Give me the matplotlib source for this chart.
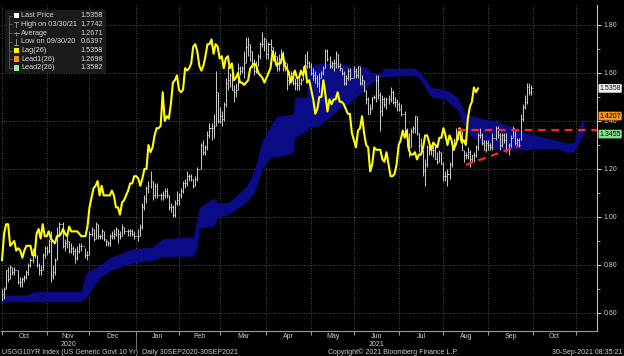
import numpy as np
import pandas as pd
import matplotlib
matplotlib.use("Agg")
import matplotlib.pyplot as plt
import matplotlib.transforms as mtransforms
from matplotlib.patches import Rectangle

plt.rcParams['font.family'] = ['Liberation Sans', 'DejaVu Sans']

# USGG10YR daily bars (every weekday)
close_oct20 = [0.68, 0.70, 0.78, 0.74, 0.79, 0.77, 0.78, 0.78, 0.73, 0.73, 0.74, 0.75, 0.77, 0.80, 0.82, 0.86, 0.84, 0.80, 0.78, 0.78, 0.84, 0.87]
high_oct20 = [0.70, 0.71, 0.78, 0.79, 0.80, 0.79, 0.79, 0.78, 0.78, 0.75, 0.75, 0.76, 0.78, 0.81, 0.83, 0.87, 0.86, 0.84, 0.81, 0.80, 0.85, 0.88]
low_oct20 = [0.65, 0.66, 0.70, 0.73, 0.74, 0.76, 0.76, 0.78, 0.72, 0.71, 0.71, 0.73, 0.74, 0.76, 0.79, 0.81, 0.83, 0.79, 0.76, 0.76, 0.78, 0.83]

close_nov20 = [0.86, 0.90, 0.76, 0.77, 0.82, 0.93, 0.97, 0.97, 0.88, 0.89, 0.90, 0.86, 0.87, 0.86, 0.83, 0.86, 0.88, 0.88, 0.88, 0.84, 0.84]
high_nov20 = [0.88, 0.91, 0.94, 0.80, 0.83, 0.96, 0.98, 0.97, 0.98, 0.91, 0.92, 0.90, 0.89, 0.88, 0.87, 0.88, 0.89, 0.89, 0.88, 0.87, 0.86]
low_nov20 = [0.84, 0.85, 0.73, 0.74, 0.76, 0.82, 0.93, 0.97, 0.87, 0.86, 0.87, 0.85, 0.85, 0.84, 0.81, 0.82, 0.85, 0.86, 0.88, 0.83, 0.82]

close_dec20 = [0.93, 0.95, 0.91, 0.97, 0.92, 0.92, 0.94, 0.91, 0.90, 0.89, 0.92, 0.92, 0.93, 0.95, 0.93, 0.92, 0.96, 0.94, 0.94, 0.94, 0.94, 0.93, 0.92]
high_dec20 = [0.94, 0.96, 0.95, 0.98, 0.97, 0.93, 0.95, 0.94, 0.91, 0.90, 0.93, 0.94, 0.95, 0.96, 0.95, 0.94, 0.97, 0.96, 0.94, 0.95, 0.95, 0.95, 0.94]
low_dec20 = [0.84, 0.92, 0.90, 0.91, 0.91, 0.91, 0.91, 0.90, 0.88, 0.88, 0.88, 0.91, 0.91, 0.92, 0.89, 0.91, 0.92, 0.93, 0.94, 0.92, 0.92, 0.92, 0.91]

close_jan21 = [0.92, 0.92, 0.96, 1.04, 1.08, 1.12, 1.13, 1.15, 1.09, 1.13, 1.09, 1.09, 1.09, 1.09, 1.11, 1.09, 1.04, 1.04, 1.01, 1.06, 1.07]
high_jan21 = [0.92, 0.95, 0.97, 1.06, 1.09, 1.13, 1.15, 1.19, 1.15, 1.14, 1.14, 1.09, 1.10, 1.11, 1.12, 1.12, 1.09, 1.06, 1.05, 1.07, 1.11]
low_jan21 = [0.92, 0.90, 0.92, 0.95, 1.03, 1.06, 1.10, 1.12, 1.07, 1.08, 1.08, 1.09, 1.07, 1.07, 1.08, 1.08, 1.03, 1.02, 1.00, 1.00, 1.05]

close_feb21 = [1.09, 1.11, 1.14, 1.14, 1.17, 1.17, 1.16, 1.13, 1.16, 1.20, 1.20, 1.30, 1.27, 1.29, 1.34, 1.37, 1.37, 1.38, 1.52, 1.40]
high_feb21 = [1.10, 1.12, 1.15, 1.16, 1.19, 1.18, 1.18, 1.16, 1.17, 1.21, 1.20, 1.31, 1.32, 1.30, 1.36, 1.39, 1.39, 1.43, 1.61, 1.52]
low_feb21 = [1.05, 1.08, 1.10, 1.12, 1.13, 1.15, 1.15, 1.12, 1.13, 1.15, 1.20, 1.20, 1.26, 1.26, 1.28, 1.33, 1.32, 1.33, 1.38, 1.39]

close_mar21 = [1.42, 1.41, 1.47, 1.56, 1.57, 1.59, 1.53, 1.52, 1.53, 1.62, 1.61, 1.62, 1.64, 1.71, 1.72, 1.69, 1.63, 1.61, 1.63, 1.67, 1.72, 1.72, 1.74]
high_mar21 = [1.46, 1.44, 1.48, 1.58, 1.63, 1.60, 1.60, 1.55, 1.56, 1.64, 1.63, 1.63, 1.69, 1.75, 1.75, 1.72, 1.69, 1.66, 1.65, 1.68, 1.73, 1.77, 1.75]
low_mar21 = [1.39, 1.38, 1.40, 1.46, 1.53, 1.54, 1.53, 1.48, 1.50, 1.53, 1.59, 1.60, 1.58, 1.64, 1.67, 1.65, 1.62, 1.59, 1.60, 1.63, 1.66, 1.71, 1.69]

close_apr21 = [1.68, 1.72, 1.71, 1.66, 1.67, 1.62, 1.66, 1.67, 1.62, 1.64, 1.57, 1.58, 1.60, 1.56, 1.56, 1.55, 1.56, 1.57, 1.62, 1.63, 1.64, 1.63]
high_apr21 = [1.74, 1.73, 1.74, 1.71, 1.69, 1.67, 1.68, 1.70, 1.69, 1.65, 1.64, 1.61, 1.61, 1.61, 1.58, 1.58, 1.58, 1.58, 1.63, 1.68, 1.69, 1.65]
low_apr21 = [1.66, 1.66, 1.69, 1.65, 1.64, 1.61, 1.61, 1.66, 1.61, 1.61, 1.53, 1.55, 1.57, 1.55, 1.53, 1.53, 1.53, 1.55, 1.57, 1.61, 1.62, 1.62]

close_may21 = [1.60, 1.59, 1.58, 1.56, 1.58, 1.60, 1.62, 1.69, 1.66, 1.63, 1.64, 1.64, 1.68, 1.63, 1.62, 1.60, 1.56, 1.58, 1.61, 1.58, 1.58]
high_may21 = [1.64, 1.62, 1.61, 1.59, 1.60, 1.61, 1.63, 1.70, 1.70, 1.67, 1.65, 1.66, 1.69, 1.68, 1.64, 1.62, 1.61, 1.59, 1.62, 1.62, 1.58]
low_may21 = [1.59, 1.57, 1.56, 1.54, 1.52, 1.58, 1.59, 1.62, 1.65, 1.62, 1.62, 1.61, 1.62, 1.62, 1.61, 1.59, 1.55, 1.55, 1.57, 1.57, 1.58]

close_jun21 = [1.61, 1.59, 1.63, 1.56, 1.57, 1.53, 1.49, 1.43, 1.45, 1.50, 1.50, 1.57, 1.51, 1.44, 1.49, 1.47, 1.49, 1.49, 1.52, 1.48, 1.48, 1.47]
high_jun21 = [1.63, 1.62, 1.63, 1.63, 1.59, 1.57, 1.53, 1.50, 1.47, 1.50, 1.51, 1.59, 1.59, 1.52, 1.51, 1.50, 1.50, 1.51, 1.54, 1.53, 1.50, 1.49]
low_jun21 = [1.58, 1.58, 1.58, 1.55, 1.55, 1.52, 1.47, 1.43, 1.43, 1.45, 1.49, 1.48, 1.49, 1.36, 1.42, 1.46, 1.45, 1.47, 1.48, 1.47, 1.46, 1.44]

close_jul21 = [1.45, 1.43, 1.43, 1.35, 1.32, 1.29, 1.36, 1.37, 1.42, 1.35, 1.30, 1.29, 1.19, 1.22, 1.29, 1.28, 1.28, 1.28, 1.24, 1.23, 1.27, 1.22]
high_jul21 = [1.48, 1.47, 1.43, 1.44, 1.37, 1.35, 1.37, 1.38, 1.42, 1.42, 1.35, 1.33, 1.28, 1.24, 1.30, 1.31, 1.30, 1.30, 1.30, 1.27, 1.28, 1.27]
low_jul21 = [1.44, 1.42, 1.43, 1.34, 1.29, 1.25, 1.29, 1.35, 1.35, 1.34, 1.27, 1.28, 1.17, 1.13, 1.21, 1.26, 1.26, 1.25, 1.24, 1.22, 1.23, 1.22]

close_aug21 = [1.17, 1.17, 1.18, 1.22, 1.30, 1.32, 1.36, 1.33, 1.36, 1.28, 1.26, 1.26, 1.27, 1.24, 1.26, 1.26, 1.29, 1.34, 1.34, 1.31, 1.28, 1.31]
high_aug21 = [1.23, 1.19, 1.20, 1.23, 1.31, 1.33, 1.37, 1.37, 1.37, 1.36, 1.28, 1.27, 1.29, 1.28, 1.26, 1.27, 1.30, 1.35, 1.37, 1.35, 1.32, 1.32]
low_aug21 = [1.15, 1.15, 1.13, 1.16, 1.21, 1.28, 1.31, 1.32, 1.32, 1.28, 1.23, 1.24, 1.24, 1.21, 1.23, 1.23, 1.25, 1.28, 1.33, 1.30, 1.28, 1.27]

close_sep21 = [1.30, 1.29, 1.33, 1.33, 1.37, 1.34, 1.30, 1.34, 1.32, 1.28, 1.30, 1.33, 1.37, 1.31, 1.32, 1.30, 1.41, 1.46, 1.48, 1.54, 1.52, 1.5358]
high_sep21 = [1.32, 1.31, 1.35, 1.33, 1.38, 1.38, 1.35, 1.35, 1.35, 1.35, 1.31, 1.34, 1.38, 1.36, 1.33, 1.33, 1.43, 1.47, 1.51, 1.56, 1.56, 1.55]
low_sep21 = [1.28, 1.28, 1.28, 1.33, 1.32, 1.33, 1.28, 1.29, 1.31, 1.27, 1.26, 1.29, 1.33, 1.30, 1.30, 1.29, 1.32, 1.40, 1.45, 1.47, 1.51, 1.51]

# Ichimoku cloud (Lead1/Lead2 shifted 26 days), upper and lower edge
cloud_dates = ['2020-10-01', '2020-10-19', '2020-10-23', '2020-11-25', '2020-11-27', '2020-12-08',
               '2020-12-16', '2020-12-30', '2021-01-13', '2021-01-20', '2021-02-10', '2021-02-12',
               '2021-02-15', '2021-02-24', '2021-02-26', '2021-03-05', '2021-03-18', '2021-03-24',
               '2021-03-30', '2021-04-05', '2021-04-08', '2021-04-20', '2021-04-21', '2021-04-29',
               '2021-04-30', '2021-05-07', '2021-05-24', '2021-05-28', '2021-06-09', '2021-06-14',
               '2021-06-18', '2021-06-22', '2021-07-12', '2021-07-15', '2021-07-23', '2021-08-03',
               '2021-08-11', '2021-08-17', '2021-08-23', '2021-08-27', '2021-09-07', '2021-09-17',
               '2021-09-28', '2021-10-07', '2021-10-19', '2021-10-25', '2021-10-29', '2021-11-02',
               '2021-11-05']
cloud_top = [0.675, 0.675, 0.69, 0.69, 0.765, 0.80, 0.835, 0.867, 0.876, 0.91, 0.917, 1.00,
             1.04, 1.08, 1.06, 1.06, 1.126, 1.195, 1.32, 1.38, 1.42, 1.43, 1.50, 1.50,
             1.625, 1.64, 1.64, 1.625, 1.625, 1.60, 1.60, 1.62, 1.62, 1.61, 1.54, 1.53,
             1.50, 1.43, 1.42, 1.41, 1.40, 1.375, 1.35, 1.335, 1.32, 1.31, 1.31, 1.36, 1.4207]
cloud_bot = [0.647, 0.647, 0.647, 0.647, 0.66, 0.746, 0.779, 0.808, 0.82, 0.835, 0.837, 0.876,
             0.955, 0.96, 1.00, 1.01, 1.06, 1.10, 1.20, 1.25, 1.25, 1.265, 1.33, 1.36,
             1.375, 1.38, 1.46, 1.475, 1.54, 1.56, 1.585, 1.585, 1.59, 1.58, 1.50, 1.49,
             1.445, 1.36, 1.33, 1.30, 1.28, 1.28, 1.28, 1.285, 1.285, 1.27, 1.27, 1.30, 1.3455]

# hand-drawn trend lines
resist_start = '2021-08-11'
resist_level = 1.363
support_dates = ['2021-08-17', '2021-09-22']
support_vals = [1.217, 1.296]

months = ['Oct', 'Nov', 'Dec', 'Jan', 'Feb', 'Mar', 'Apr', 'May', 'Jun', 'Jul', 'Aug', 'Sep', 'Oct']
month_starts = ['2020-10-01', '2020-11-02', '2020-12-01', '2021-01-01', '2021-02-01', '2021-03-01',
                '2021-04-01', '2021-05-03', '2021-06-01', '2021-07-01', '2021-08-02', '2021-09-01',
                '2021-10-01', '2021-11-01']

legend_labels = ['Last Price', 'High on 03/30/21', 'Average', 'Low on 09/30/20', 'Lag(26)', 'Lead1(26)', 'Lead2(26)']
legend_values = ['1.5358', '1.7742', '1.2671', '0.6397', '1.5358', '1.2698', '1.3582']
side_labels = [('1.5358', 1.5358, '#f2f2f2'), ('1.4207', 1.4207, '#f7941d'), ('1.3455', 1.3455, '#86e08e')]

close = np.array(close_oct20 + close_nov20 + close_dec20 + close_jan21 + close_feb21 + close_mar21
                 + close_apr21 + close_may21 + close_jun21 + close_jul21 + close_aug21 + close_sep21)
high = np.array(high_oct20 + high_nov20 + high_dec20 + high_jan21 + high_feb21 + high_mar21
                + high_apr21 + high_may21 + high_jun21 + high_jul21 + high_aug21 + high_sep21)
low = np.array(low_oct20 + low_nov20 + low_dec20 + low_jan21 + low_feb21 + low_mar21
               + low_apr21 + low_may21 + low_jun21 + low_jul21 + low_aug21 + low_sep21)

days = pd.bdate_range('2020-10-01', '2021-11-30')
pos = {d: i for i, d in enumerate(days)}


def ix(s):
    return pos[pd.Timestamp(s)]


xp = np.arange(len(close))
xmin, xmax = -0.5, 292.5

fig = plt.figure(figsize=(6.24, 3.56), dpi=100, facecolor='black')
ax = fig.add_axes([1 / 624, 25 / 356, 596 / 624, 326 / 356])
ax.set_facecolor('black')

cx = [ix(d) for d in cloud_dates]
ax.fill_between(cx, cloud_bot, cloud_top, color='#0b0b86', lw=0, zorder=2)
ax.vlines(xp, low, high, color='#c4c4c4', lw=0.75, zorder=3)
ax.hlines(close, xp, xp + 0.5, color='#e6e6e6', lw=0.75, zorder=3)
ax.plot(xp[:-26], close[26:], color='#ffff00', lw=1.5, zorder=4)

ax.plot([ix(resist_start), xmax], [resist_level, resist_level], color='#ff2424', lw=1.6,
        dashes=(3.5, 2.5), zorder=5, clip_on=False)
ax.plot([ix(d) for d in support_dates], support_vals, color='#ff2424', lw=1.6, dashes=(3.5, 2.5), zorder=5)

ax.set_xlim(xmin, xmax)
ax.set_ylim(0.525, 1.8833)

starts = [ix(d) for d in month_starts]
centers = [(a + b) / 2 for a, b in zip(starts[:-1], starts[1:])]
ax.set_xticks(starts)
ax.set_xticklabels([])
ax.set_xticks(centers, minor=True)
ax.set_xticklabels(months, minor=True)
ax.tick_params(axis='x', which='major', length=3, color='#9a9a9a', direction='out')
ax.tick_params(axis='x', which='minor', length=0, labelsize=5, labelcolor='#d0d0d0', pad=1.5)

ax.yaxis.tick_right()
ax.set_yticks(np.arange(0.6, 1.81, 0.2))
ax.set_yticklabels(['%.2f' % v for v in np.arange(0.6, 1.81, 0.2)])
ax.set_yticks(np.arange(0.7, 1.8, 0.2), minor=True)
ax.tick_params(axis='y', which='major', length=3, width=0.8, color='#c8c8c8', labelsize=5,
               labelcolor='#d0d0d0', pad=1.5)
ax.tick_params(axis='y', which='minor', length=2, width=0.6, color='#c8c8c8')

ax.grid(True, which='major', color='#6a6a6a', ls=(0, (1, 2)), lw=0.6, zorder=1)
ax.set_axisbelow(True)
for s in ['top', 'left']:
    ax.spines[s].set_visible(False)
ax.spines['right'].set_color('#c0c0c0')
ax.spines['bottom'].set_color('#9a9a9a')

blend = mtransforms.blended_transform_factory(ax.transAxes, ax.transData)
for txt, val, col in side_labels:
    ax.text(1.004, val, txt, transform=blend, fontsize=5, color='black', va='center', ha='left',
            bbox=dict(boxstyle='round,pad=0.12', fc=col, ec='none'), clip_on=False, zorder=6)

# overlay in pixel coordinates for legend box and footer
ov = fig.add_axes([0, 0, 1, 1])
ov.set_xlim(0, 624)
ov.set_ylim(356, 0)
ov.axis('off')

ov.add_patch(Rectangle((5, 9.5), 101, 63.5, fc='#1a1a1a', ec='none'))
rows = [15.7 + 8.7 * i for i in range(7)]
ov.plot([8.5, 8.5], [rows[0], rows[-1]], color='#5a5a5a', lw=0.6)
for y in rows:
    ov.plot([8.5, 12], [y, y], color='#5a5a5a', lw=0.6)
sq_colors = {0: '#ffffff', 4: '#ffff00', 5: '#ff8c1a', 6: '#98ee98'}
for i, y in enumerate(rows):
    if i in sq_colors:
        ov.add_patch(Rectangle((13.5, y - 2.8), 5.6, 5.6, fc=sq_colors[i], ec='none'))
mk = '#8c8c8c'
ov.plot([16.3, 16.3], [rows[1] - 2.8, rows[1] + 2.8], color=mk, lw=0.7)
ov.plot([14.3, 18.3], [rows[1] - 2.8, rows[1] - 2.8], color=mk, lw=0.7)
ov.plot([13.5, 19.1], [rows[2], rows[2]], color=mk, lw=0.7)
ov.plot([16.3, 16.3], [rows[2] - 1.5, rows[2] + 1.5], color=mk, lw=0.7)
ov.plot([16.3, 16.3], [rows[3] - 2.8, rows[3] + 2.8], color=mk, lw=0.7)
ov.plot([14.3, 18.3], [rows[3] + 2.8, rows[3] + 2.8], color=mk, lw=0.7)
for lab, val, y in zip(legend_labels, legend_values, rows):
    ov.text(21, y, lab, fontsize=5.3, color='#d8d8d8', va='center', ha='left')
    ov.text(103, y, val, fontsize=5.3, color='#d8d8d8', va='center', ha='right')

# year labels and separator
px = lambda i: 1 + (i - xmin) * 596 / (xmax - xmin)
ov.text(px(centers[1]), 344, '2020', fontsize=5, color='#d0d0d0', ha='center', va='center')
ov.text(px(centers[8]), 344, '2021', fontsize=5, color='#d0d0d0', ha='center', va='center')
ov.plot([px(starts[3]), px(starts[3])], [331, 348], color='#8a8a8a', lw=0.6)

ov.text(2, 352, 'USGG10YR Index (US Generic Govt 10 Yr)  Daily 30SEP2020-30SEP2021', fontsize=5,
        color='#d0d0d0', ha='left', va='center')
ov.text(393, 352, 'Copyright\u00a9 2021 Bloomberg Finance L.P.', fontsize=5, color='#d0d0d0',
        ha='center', va='center')
ov.text(622, 352, '30-Sep-2021 08:35:21', fontsize=5, color='#d0d0d0', ha='right', va='center')

fig.savefig('out.png', dpi=100, facecolor='black')
